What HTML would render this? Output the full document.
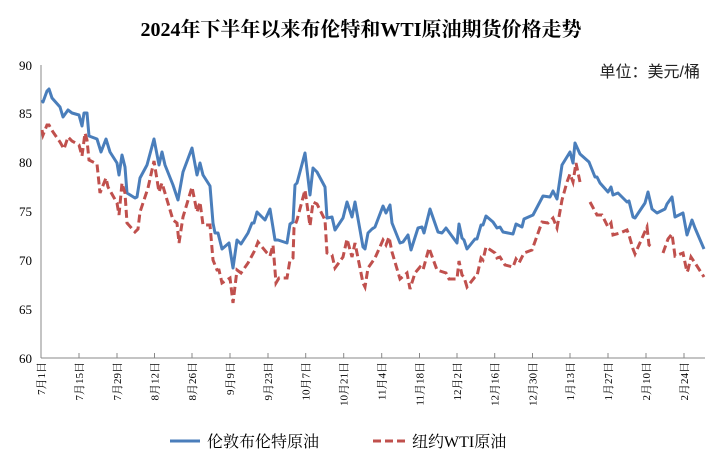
<!DOCTYPE html>
<html><head><meta charset="utf-8"><style>
body{margin:0;background:#fff;}
svg{display:block;font-family:"Liberation Serif","Noto Serif CJK SC",serif;}
</style></head><body>
<svg width="723" height="475" viewBox="0 0 723 475" xmlns="http://www.w3.org/2000/svg">
<rect width="723" height="475" fill="#fff"/>
<text x="361" y="36" text-anchor="middle" font-size="20" font-weight="bold" fill="#000">2024年下半年以来布伦特和WTI原油期货价格走势</text>
<text x="700" y="77" text-anchor="end" font-size="16" font-family="Liberation Sans,Noto Sans CJK SC,sans-serif" fill="#222">单位：美元/桶</text>
<g font-size="13" fill="#000" text-anchor="end">
<text x="32" y="70">90</text><text x="32" y="118">85</text><text x="32" y="167">80</text><text x="32" y="216">75</text><text x="32" y="265">70</text><text x="32" y="314">65</text><text x="32" y="363">60</text>
</g>
<line x1="41" y1="65" x2="41" y2="358" stroke="#888" stroke-width="1"/>
<line x1="41" y1="358" x2="705" y2="358" stroke="#888" stroke-width="1"/>
<g stroke="#888" stroke-width="1">
<line x1="79" y1="353" x2="79" y2="358"/><line x1="117" y1="353" x2="117" y2="358"/><line x1="154.5" y1="353" x2="154.5" y2="358"/><line x1="192" y1="353" x2="192" y2="358"/><line x1="230" y1="353" x2="230" y2="358"/><line x1="268" y1="353" x2="268" y2="358"/><line x1="305.7" y1="353" x2="305.7" y2="358"/><line x1="343.7" y1="353" x2="343.7" y2="358"/><line x1="381.7" y1="353" x2="381.7" y2="358"/><line x1="419.5" y1="353" x2="419.5" y2="358"/><line x1="457" y1="353" x2="457" y2="358"/><line x1="494.7" y1="353" x2="494.7" y2="358"/><line x1="532.5" y1="353" x2="532.5" y2="358"/><line x1="570" y1="353" x2="570" y2="358"/><line x1="608" y1="353" x2="608" y2="358"/><line x1="646" y1="353" x2="646" y2="358"/><line x1="684" y1="353" x2="684" y2="358"/>
</g>
<g font-size="11" fill="#000" text-anchor="end">
<text transform="translate(45,362) rotate(-90)">7月1日</text>
<text transform="translate(83,362) rotate(-90)">7月15日</text>
<text transform="translate(121,362) rotate(-90)">7月29日</text>
<text transform="translate(158.5,362) rotate(-90)">8月12日</text>
<text transform="translate(196,362) rotate(-90)">8月26日</text>
<text transform="translate(234,362) rotate(-90)">9月9日</text>
<text transform="translate(272,362) rotate(-90)">9月23日</text>
<text transform="translate(309.7,362) rotate(-90)">10月7日</text>
<text transform="translate(347.7,362) rotate(-90)">10月21日</text>
<text transform="translate(385.7,362) rotate(-90)">11月4日</text>
<text transform="translate(423.5,362) rotate(-90)">11月18日</text>
<text transform="translate(461,362) rotate(-90)">12月2日</text>
<text transform="translate(498.7,362) rotate(-90)">12月16日</text>
<text transform="translate(536.5,362) rotate(-90)">12月30日</text>
<text transform="translate(574,362) rotate(-90)">1月13日</text>
<text transform="translate(612,362) rotate(-90)">1月27日</text>
<text transform="translate(650,362) rotate(-90)">2月10日</text>
<text transform="translate(688,362) rotate(-90)">2月24日</text>
</g>
<polyline fill="none" stroke="#4a7ebb" stroke-width="3" stroke-linejoin="round" points="42,100 43,102 47,91 49,89 52,98 60,107 63,117 68,110 72,113 79,115 82,126 84,113 87,113 89,136 97,139 101,152 106,139 110,152 117,163 119,175 122,155 125,167 127,193 135,198 137,197 140,178 147,165 154,139 159,165 162,152 165,165 173,185 178,200 183,172 192,148 197,175 200,163 203,175 210,186 213,223 215,233 218,233 222,249 229,243 233,268 237,240 241,244 248,233 252,223 254,223 257,212 265,220 270,209 275,240 278,240 287,243 290,224 293,222 295,185 297,183 305,153 310,195 313,168 317,172 325,187 327,218 332,217 335,230 343,218 347,202 352,217 355,202 360,230 363,247 365,249 368,233 372,229 375,227 383,206 386,213 390,205 392,223 400,243 403,242 408,235 411,250 418,228 422,227 424,233 430,209 438,232 442,233 446,228 457,243 459,224 462,238 464,240 467,249 475,239 477,239 481,225 483,225 486,216 493,222 497,228 500,227 503,232 513,234 516,224 522,227 524,219 533,215 543,196 550,197 553,191 557,199 562,165 570,152 573,163 575,143 580,154 589,162 595,177 597,177 600,183 608,192 611,187 613,195 618,193 627,202 629,201 633,217 635,218 645,203 648,192 652,209 657,213 665,209 667,204 672,197 675,217 683,213 687,235 688,232 692,220 695,228 704,249"/>
<g fill="none" stroke="#c0504d" stroke-width="3" stroke-dasharray="8,4">
<polyline points="42,130 43,135 47,125 49,125 53,132 60,142 64,149 68,137 72,141 79,145 82,156 85,133 87,140 89,160 97,164 100,193 106,178 108,187 117,203 119,215 122,183 125,193 127,223 135,232 138,229 140,212 148,188 154,161 159,192 162,183 173,220 177,223 179,243 183,217 192,187 197,212 200,202 203,225 210,225 213,260 217,270 219,270 222,283 230,278 233,303 237,270 241,273 248,263 255,250 258,242 267,253 270,256 273,245 276,283 279,278 287,278 290,260 293,258 294,228 297,220 305,190 310,226 313,202 317,204 325,220 327,253 332,255 335,268 343,257 347,239 352,257 355,243 360,268 363,283 365,287 368,268 375,258 383,240 386,245 389,237 392,252 400,279 407,273 410,289 415,273 420,267 423,270 429,248 437,270 446,273 449,279 457,279 459,261 462,275 464,277 467,287 475,277 477,276 481,258 483,260 486,247 495,253 497,258 500,257 505,265 513,267 516,259 519,263 524,253 532,250 542,222 548,223 553,218 557,228 562,200 567,182 570,174 573,182 576,163 580,182"/>
<polyline points="590,202 597,215 602,215 608,227 611,223 613,235 620,233 627,230 629,235 633,249 635,254 647,227 649,245 653,248"/>
<polyline points="663,253 668,239 672,234 675,256 683,253 687,272 688,270 691,257 695,263 704,277"/>
</g>
<line x1="170" y1="441" x2="200" y2="441" stroke="#4a7ebb" stroke-width="3"/>
<text x="207" y="447" font-size="16" fill="#000">伦敦布伦特原油</text>
<line x1="373" y1="441" x2="405" y2="441" stroke="#c0504d" stroke-width="3" stroke-dasharray="8,4"/>
<text x="412" y="447" font-size="16" fill="#000">纽约WTI原油</text>
</svg>
</body></html>
